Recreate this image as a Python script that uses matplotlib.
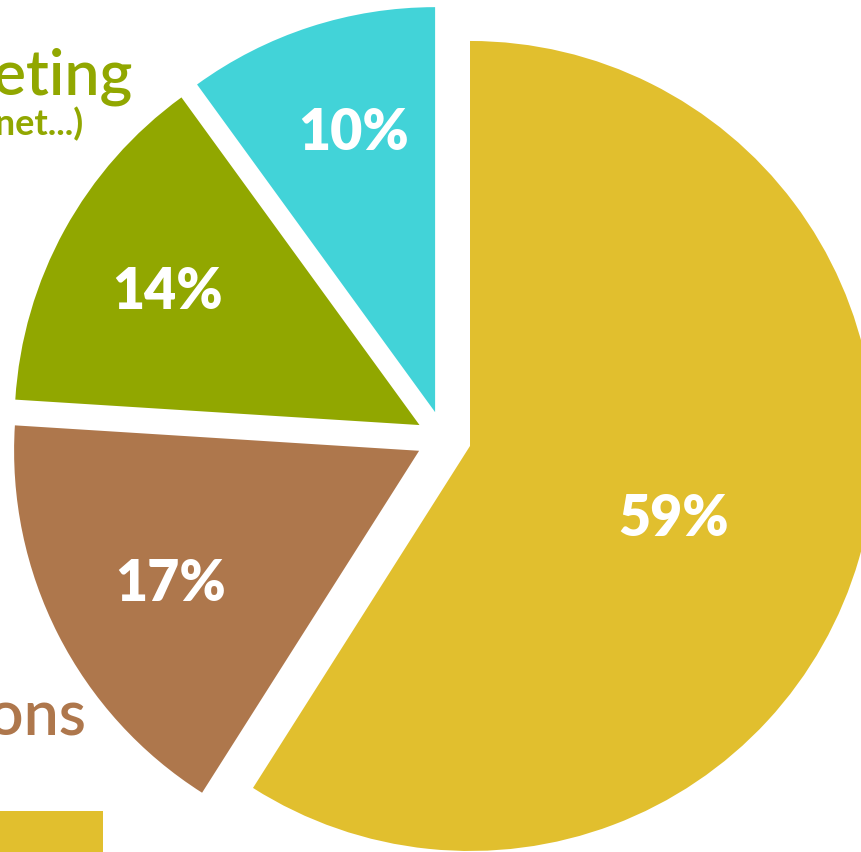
import matplotlib
matplotlib.use("Agg")
import matplotlib.pyplot as plt
import numpy as np
from matplotlib.patches import Rectangle

# Data
categories = ["Publications", "Productions", "Marketing", "Other"]
values = [59, 17, 14, 10]
labels_pct = ["59%", "17%", "14%", "10%"]
colors = ["#E1BF2E", "#AE774C", "#91A700", "#42D3D8"]

# label placement (fraction of radius, angle tweak in degrees)
label_dist = [0.53, 0.69, 0.71, 0.73]
label_dang = [-2.2, 0.3, 0.0, -2.0]

W, H = 861, 853
fig = plt.figure(figsize=(W / 100, H / 100), dpi=100)
ax = fig.add_axes([0, 0, 1, 1])

center = (443.6, 853 - 439.3)
radius = 405
explode = [27.5] * len(values)

wedges, _ = ax.pie(values, colors=colors, startangle=90, counterclock=False,
                   radius=radius, center=center, explode=explode,
                   wedgeprops=dict(linewidth=0))

for w, lab, d, da in zip(wedges, labels_pct, label_dist, label_dang):
    th = np.deg2rad((w.theta1 + w.theta2) / 2 + da)
    cx, cy = w.center
    x = cx + d * w.r * np.cos(th)
    y = cy + d * w.r * np.sin(th)
    ax.text(x, y, lab, ha="center", va="center_baseline", color="white",
            fontsize=40, fontweight="heavy", family=["Lato", "DejaVu Sans"])

# Partially visible legend (cropped at the left edge, as in the reference)
ax.text(133, 853 - 95, "Marketing", ha="right", va="baseline", color=colors[2],
        fontsize=45, family=["Lato", "DejaVu Sans"], fontweight="semibold")
ax.text(84, 853 - 135, "(internet...)", ha="right", va="baseline", color=colors[2],
        fontsize=26, family=["Lato", "DejaVu Sans"], fontweight="bold")
ax.text(87, 853 - 735, "Productions", ha="right", va="baseline", color=colors[1],
        fontsize=45, family=["Lato", "DejaVu Sans"], fontweight="semibold")
ax.add_patch(Rectangle((-200, -20), 303, 853 - 812 + 20, color=colors[0], lw=0))

ax.set_xlim(0, W)
ax.set_ylim(0, H)
ax.set_aspect("auto")
ax.axis("off")
fig.savefig("out.png", dpi=100, facecolor="white")
